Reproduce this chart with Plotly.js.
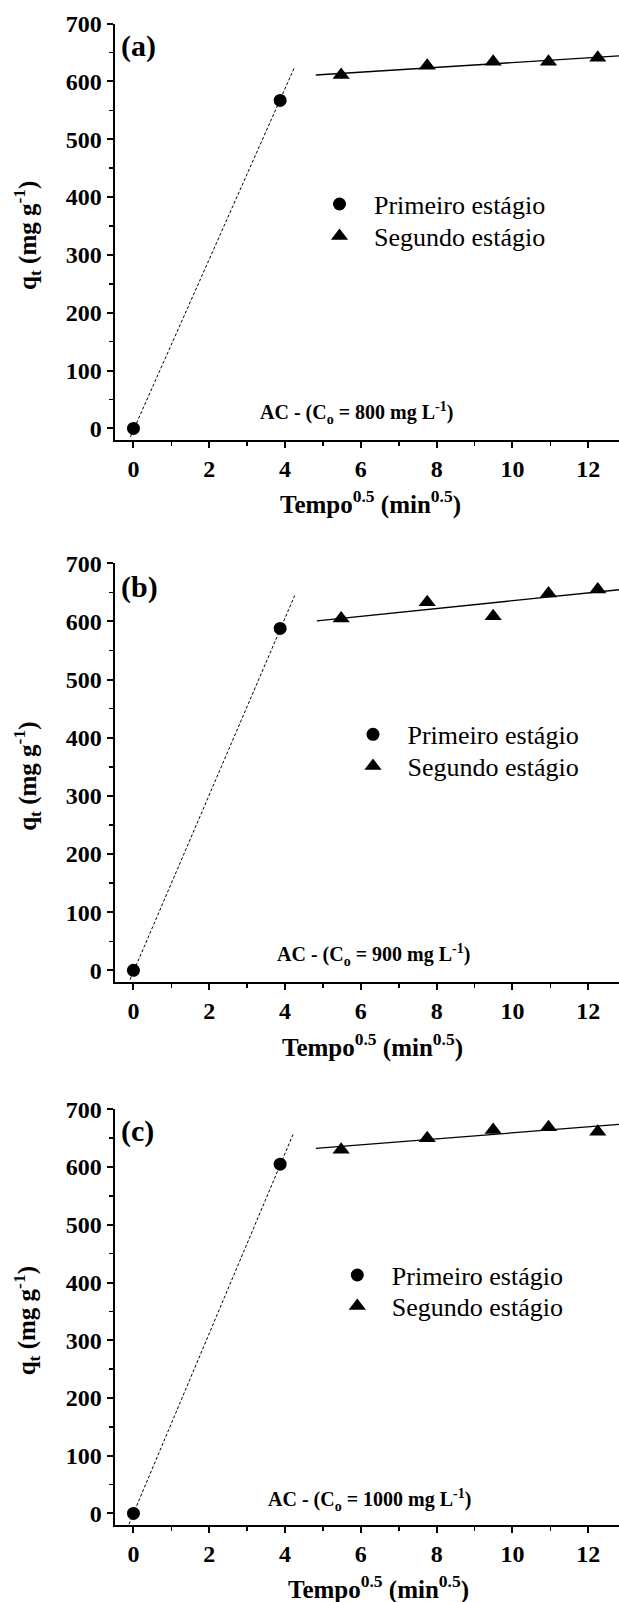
<!DOCTYPE html>
<html>
<head>
<meta charset="utf-8">
<script src="https://cdn.plot.ly/plotly-3.0.1.min.js"></script>
<style>
  html, body { margin: 0; padding: 0; background: #ffffff; overflow: hidden; }
  #chart { width: 619px; height: 1602px; }
</style>
</head>
<body>
<div id="chart"></div>
<script>
// ---------- data ----------
const panelLabels = ['(a)', '(b)', '(c)'];
const concentrations = [800, 900, 1000];

// x = tempo^0.5 (min^0.5)
const tempoPrimeiro = [0, 3.87];
const tempoSegundo = [5.48, 7.75, 9.49, 10.95, 12.25];

// q_t (mg g^-1)
const qPrimeiroA = [0, 567];
const qSegundoA = [611, 627, 634, 634, 641];
const qPrimeiroB = [0, 588];
const qSegundoB = [605, 633, 609, 648, 655];
const qPrimeiroC = [0, 605];
const qSegundoC = [630, 650, 664, 669, 661];

// fitted straight lines (endpoints)
const linPrimeiroAx = [-0.08, 4.24];
const linPrimeiroAy = [-14.5, 623];
const linSegundoAx = [4.81, 12.81];
const linSegundoAy = [611, 644];

const linPrimeiroBx = [-0.09, 4.27];
const linPrimeiroBy = [-16, 647];
const linSegundoBx = [4.84, 12.81];
const linSegundoBy = [601, 654.5];

const linPrimeiroCx = [-0.12, 4.23];
const linPrimeiroCy = [-18.7, 659.5];
const linSegundoCx = [4.81, 12.86];
const linSegundoCy = [632.4, 674];

const legendNames = ['Primeiro estágio', 'Segundo estágio'];
const xTitle = 'Tempo<sup>0.5</sup> (min<sup>0.5</sup>)';
const yTitle = 'q<sub>t</sub> (mg g<sup>-1</sup>)';

// ---------- styling ----------
const FONT = 'Liberation Serif, Times New Roman, serif';
const W = 619, H = 1602;
const plotLeft = 114.5;
const panelsPx = [ [23.5, 440], [563.3, 982], [1109.3, 1525] ]; // top, bottom in px

const sets = [
  {qp: qPrimeiroA, qs: qSegundoA, lpx: linPrimeiroAx, lpy: linPrimeiroAy, lsx: linSegundoAx, lsy: linSegundoAy},
  {qp: qPrimeiroB, qs: qSegundoB, lpx: linPrimeiroBx, lpy: linPrimeiroBy, lsx: linSegundoBx, lsy: linSegundoBy},
  {qp: qPrimeiroC, qs: qSegundoC, lpx: linPrimeiroCx, lpy: linPrimeiroCy, lsx: linSegundoCx, lsy: linSegundoCy}
];

// legend symbol centres (px): [x, y circle, y triangle]
const legendPos = [ [339.5, 204, 236], [373, 734.3, 766], [357.3, 1275, 1306] ];
const LEG_FONT = 26;
const legItemCentre = 5 + (LEG_FONT * 1.3 + 3) / 2;

// x-title box centre (px) per panel
const xTitlePos = [ [370, 502], [373, 1045.5], [378.5, 1587] ];

const traces = [];
const layout = {
  width: W, height: H,
  margin: {l: 0, r: 0, t: 0, b: 0, pad: 0},
  paper_bgcolor: '#ffffff', plot_bgcolor: '#ffffff',
  font: {family: FONT, color: '#000000'},
  annotations: []
};

function legendKey(k) { return k === 1 ? 'legend' : 'legend' + k; }

sets.forEach((s, i) => {
  const n = i + 1;
  const xa = n === 1 ? 'x' : 'x' + n;
  const ya = n === 1 ? 'y' : 'y' + n;
  const legC = legendKey(2 * i + 1);
  const legT = legendKey(2 * i + 2);

  traces.push({x: s.lpx, y: s.lpy, xaxis: xa, yaxis: ya, mode: 'lines', showlegend: false,
    line: {color: '#000', width: 1, dash: '3px,2px'}, hoverinfo: 'skip'});
  traces.push({x: s.lsx, y: s.lsy, xaxis: xa, yaxis: ya, mode: 'lines', showlegend: false,
    line: {color: '#000', width: 1.3}, hoverinfo: 'skip'});
  traces.push({x: tempoPrimeiro, y: s.qp, xaxis: xa, yaxis: ya, mode: 'markers', name: legendNames[0],
    legend: legC, marker: {symbol: 'circle', size: 13, color: '#000'}, cliponaxis: false});
  traces.push({x: tempoSegundo, y: s.qs, xaxis: xa, yaxis: ya, mode: 'markers', name: legendNames[1],
    legend: legT, marker: {symbol: 'triangle-up', size: 15, color: '#000'}, cliponaxis: false});

  const [top, bot] = panelsPx[i];
  const dom = [1 - bot / H, 1 - top / H];
  const xDomain = [plotLeft / W, 1];

  layout[n === 1 ? 'xaxis' : 'xaxis' + n] = {
    domain: xDomain, anchor: ya, range: [-0.5, 12.81],
    tickmode: 'linear', tick0: 0, dtick: 2,
    ticks: 'outside', ticklen: 6, tickwidth: 2, tickcolor: '#000',
    minor: {dtick: 1, ticks: 'outside', ticklen: 4, tickwidth: 1.5, tickcolor: '#000'},
    showline: true, linewidth: 2, linecolor: '#000', mirror: false,
    showgrid: false, zeroline: false,
    tickfont: {family: FONT, size: 24, weight: 'bold', color: '#000'},
    automargin: false
  };
  layout[n === 1 ? 'yaxis' : 'yaxis' + n] = {
    domain: dom, anchor: xa, range: [-20, 700],
    tickmode: 'linear', tick0: 0, dtick: 100,
    ticks: 'outside', ticklen: 6, tickwidth: 2, tickcolor: '#000',
    minor: {dtick: 50, ticks: 'outside', ticklen: 4, tickwidth: 1.5, tickcolor: '#000'},
    showline: true, linewidth: 2, linecolor: '#000', mirror: false,
    showgrid: false, zeroline: false,
    tickfont: {family: FONT, size: 24, weight: 'bold', color: '#000'},
    automargin: false
  };
  // top frame line with inward ticks
  layout['xaxis' + (n + 3)] = {
    overlaying: xa, anchor: ya, side: 'top', range: [-0.5, 12.81],
    tickmode: 'linear', tick0: 0, dtick: 1,
    ticks: 'inside', ticklen: 3, tickwidth: 1.5, tickcolor: '#000',
    showticklabels: false, showline: true, linewidth: 2, linecolor: '#000',
    showgrid: false, zeroline: false
  };

  const [lx, lyC, lyT] = legendPos[i];
  [[legC, lyC], [legT, lyT]].forEach(([key, ly]) => {
    layout[key] = {
      x: (lx - 34.5) / W, xanchor: 'left',
      y: 1 - (ly - legItemCentre) / H, yanchor: 'top',
      bgcolor: 'rgba(0,0,0,0)', borderwidth: 0,
      itemwidth: 59,
      font: {family: FONT, size: LEG_FONT, color: '#000'}
    };
  });

  // axis titles
  layout.annotations.push({
    xref: 'paper', yref: ya + ' domain', x: 27 / W, y: 0.49,
    xanchor: 'center', yanchor: 'middle', showarrow: false, textangle: -90,
    text: yTitle,
    font: {family: FONT, size: 25, weight: 'bold', color: '#000'}
  });
  const [tx, ty] = xTitlePos[i];
  layout.annotations.push({
    xref: 'paper', yref: 'paper', x: tx / W, y: 1 - ty / H,
    xanchor: 'center', yanchor: 'middle', showarrow: false,
    text: xTitle,
    font: {family: FONT, size: 25, weight: 'bold', color: '#000'}
  });
  layout.annotations.push({
    xref: xa + ' domain', yref: ya + ' domain', x: 0.008, y: [0.947, 0.944, 0.947][i],
    xanchor: 'left', yanchor: 'middle', showarrow: false, text: panelLabels[i],
    font: {family: FONT, size: 30, weight: 'bold', color: '#000'}
  });
  layout.annotations.push({
    xref: xa + ' domain', yref: ya + ' domain', x: [0.48, 0.514, 0.5045][i], y: [0.064, 0.0645, 0.06][i],
    xanchor: 'center', yanchor: 'middle', showarrow: false,
    text: 'AC - (C<sub>o</sub> = ' + concentrations[i] + ' mg L<sup>-1</sup>)',
    font: {family: FONT, size: 20, weight: 'bold', color: '#000'}
  });
});

Plotly.newPlot('chart', traces, layout, {displayModeBar: false, staticPlot: true});
</script>
</body>
</html>
